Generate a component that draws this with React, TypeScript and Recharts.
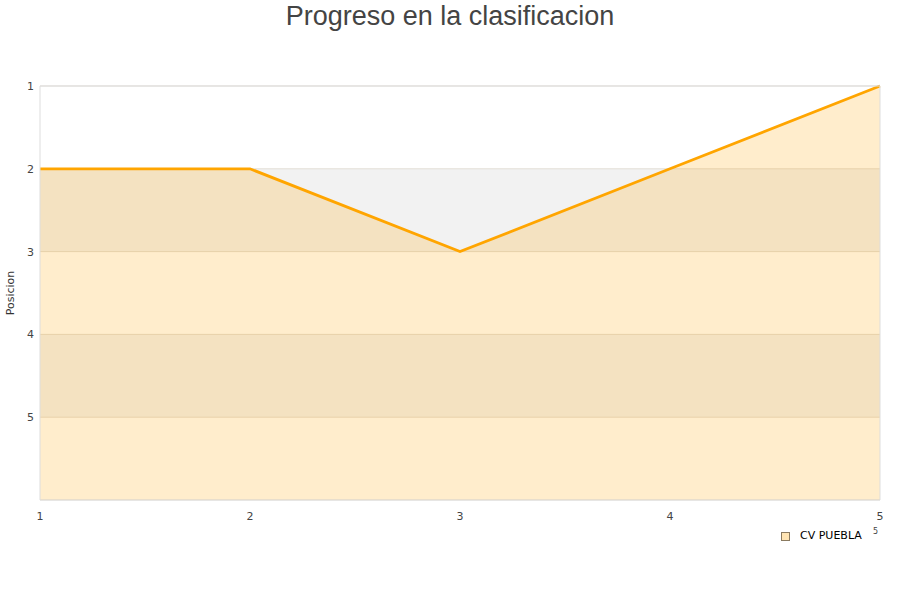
import React from 'react';
import {
  AreaChart, Area, XAxis, YAxis, CartesianGrid, ReferenceLine
} from 'recharts';

const jornadas = [1, 2, 3, 4, 5];
const posiciones = [2, 2, 3, 2, 1];
const yTicks = [1, 2, 3, 4, 5];

const data = jornadas.map((j, i) => ({ jornada: j, posicion: posiciones[i] }));

const FONT = '"DejaVu Sans", sans-serif';

export default function App() {
  return (
    <div style={{ position: 'absolute', left: 0, top: 0, width: 900, height: 600, background: '#fff' }}>
      <div style={{
        position: 'absolute', top: 0, left: 0, width: 900, textAlign: 'center',
        fontFamily: '"Liberation Sans", Arial, sans-serif', fontSize: 27, color: '#444', lineHeight: '32px'
      }}>
        Progreso en la clasificacion
      </div>
      <AreaChart
        width={900}
        height={600}
        data={data}
        margin={{ top: 86, right: 20, bottom: 70, left: 0 }}
      >
        <CartesianGrid
          vertical={false}
          stroke="#e2ddd5"
          horizontalFill={['#ffffff', '#f2f2f2']}
          fillOpacity={1}
        />
        <XAxis
          dataKey="jornada"
          type="number"
          domain={[1, 5]}
          ticks={jornadas}
          height={30}
          stroke="#dddddd"
          tickLine={false}
          tick={{ fill: '#444', fontSize: 11, fontFamily: FONT }}
          tickMargin={6}
        />
        <YAxis
          type="number"
          reversed
          domain={[1, 6]}
          ticks={yTicks}
          width={40}
          stroke="#dddddd"
          tickLine={false}
          tick={{ fill: '#444', fontSize: 11, fontFamily: FONT }}
          tickMargin={0}
          label={{ value: 'Posicion', angle: -90, position: 'insideLeft', offset: 10, fill: '#333', fontSize: 11, fontFamily: FONT, style: { textAnchor: 'middle' } }}
        />
        <ReferenceLine x={5} stroke="#dddddd" />
        <ReferenceLine y={1} stroke="#dddddd" />
        <Area
          type="linear"
          dataKey="posicion"
          name="CV PUEBLA"
          baseValue="dataMax"
          stroke="#ffa500"
          strokeWidth={2.8}
          fill="#ffa500"
          fillOpacity={0.2}
          dot={false}
          activeDot={false}
          isAnimationActive={false}
        />
      </AreaChart>
      <div style={{
        position: 'absolute', left: 781, top: 529, display: 'flex', alignItems: 'center',
        fontFamily: FONT, fontSize: 11, color: '#000', lineHeight: '14px'
      }}>
        <span style={{
          display: 'inline-block', width: 7, height: 7, border: '1px solid #8a7a60',
          background: '#ffe4b3', marginRight: 10
        }} />
        <span>CV PUEBLA</span>
      </div>
      <div style={{ position: 'absolute', left: 873, top: 527, fontFamily: FONT, fontSize: 8, color: '#444' }}>5</div>
    </div>
  );
}
